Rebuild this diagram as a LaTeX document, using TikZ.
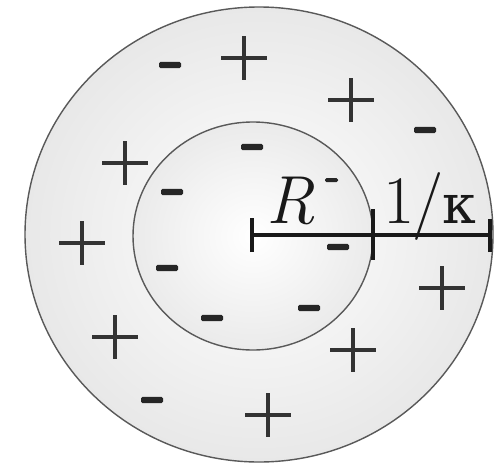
\documentclass[tikz,border=0pt]{standalone}
\usepackage{fontspec}
\newfontfamily\greekfont{DejaVu Serif}
\tikzset{
  ring/.style={draw=black!65, line width=1.4pt},
  pluscharge/.style={line width=3.2pt, draw=black!80},
  minuscharge/.style={fill=black!85, rounded corners=1.5pt},
  barline/.style={line width=3.5pt, draw=black!90},
  tickline/.style={line width=4.5pt, draw=black!90},
  biglabel/.style={inner sep=0pt, font=\fontsize{68}{68}\selectfont\addfontfeatures{FakeBold=1.2}, text=black!90},
}
\newcommand{\plusat}[2]{\draw[pluscharge] (#1-23,#2) -- (#1+23,#2) (#1,#2-22) -- (#1,#2+22);}
\newcommand{\minusat}[2]{\fill[minuscharge] (#1-11,#2-3.2) rectangle (#1+11,#2+3.2);}
\begin{document}
\begin{tikzpicture}[x=1pt,y=-1pt]
\useasboundingbox (0,0) rectangle (498,464);
\fill[white] (0,0) rectangle (498,464);
% outer disk
\shade[inner color=white, outer color=black!9] (259,234.5) ellipse [x radius=234, y radius=227.5];
\draw[ring] (259,234.5) ellipse [x radius=234, y radius=227.5];
% inner disk
\shade[inner color=white, outer color=black!8] (253,236) ellipse [x radius=120, y radius=114];
\draw[ring] (253,236) ellipse [x radius=120, y radius=114];
% plus charges
\plusat{244}{58}
\plusat{351}{100}
\plusat{125}{163}
\plusat{82}{243}
\plusat{442}{288}
\plusat{115}{337}
\plusat{353}{350}
\plusat{268}{415}
% minus charges
\minusat{170}{65}
\minusat{425}{130}
\minusat{252}{147}
\minusat{172}{192}
\minusat{338}{247}
\minusat{167}{268}
\minusat{309}{308}
\minusat{212}{318}
\minusat{152}{400}
\fill[minuscharge] (325,178) rectangle (338,182);
% scale bar
\coordinate (c) at (252,235);
\coordinate (m) at (373,235);
\coordinate (e) at (490,235);
\draw[barline] (c) -- (e);
\draw[tickline] ([yshift=-17pt]c) -- ([yshift=17pt]c);
\draw[tickline] ([yshift=-25pt]m) -- ([yshift=26pt]m);
\draw[tickline] ([yshift=-17pt]e) -- ([yshift=16pt]e);
% labels
\node[biglabel, anchor=base] (rlab) at (291,223) {\itshape R};
\node[biglabel, anchor=base] (klab) at (430,223) {1\kern-2pt/\kern-1pt{\greekfont\fontsize{54}{54}\selectfont κ}};
\end{tikzpicture}
\end{document}
